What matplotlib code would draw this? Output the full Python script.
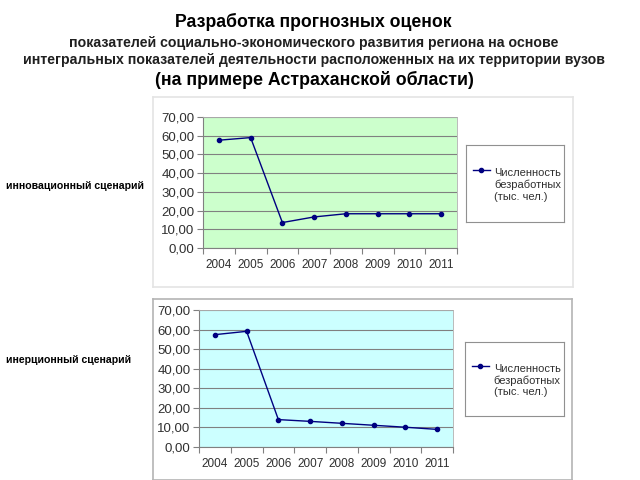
import matplotlib.pyplot as plt

plt.rcParams['font.family'] = ['Liberation Sans', 'DejaVu Sans']

years = ['2004', '2005', '2006', '2007', '2008', '2009', '2010', '2011']
innov = [57.6, 59.0, 13.6, 16.6, 18.3, 18.3, 18.3, 18.3]
inert = [57.4, 59.1, 14.0, 13.1, 12.1, 11.1, 10.1, 9.0]
yticks = [0, 10, 20, 30, 40, 50, 60, 70]
legend_label = 'Численность\nбезработных\n(тыс. чел.)'

W, H = 640, 480
fig = plt.figure(figsize=(6.4, 4.8), dpi=100)


def px(x0, y0, x1, y1):
    # pixel box (top-left origin) -> figure fraction
    return [x0 / W, 1 - y1 / H, (x1 - x0) / W, (y1 - y0) / H]


# titles
fig.text(0.49, 1 - 22 / H, 'Разработка прогнозных оценок', ha='center', va='center',
         fontsize=12.7, fontweight='bold')
fig.text(0.4906, 1 - 43 / H, 'показателей социально-экономического развития региона на основе',
         ha='center', va='center', fontsize=10.2, fontweight='bold', color='#202020')
fig.text(0.4906, 1 - 60 / H, 'интегральных показателей деятельности расположенных на их территории вузов',
         ha='center', va='center', fontsize=10.2, fontweight='bold', color='#202020')
fig.text(0.4914, 1 - 80 / H, '(на примере Астраханской области)', ha='center', va='center',
         fontsize=12.8, fontweight='bold')

# side labels
fig.text(6 / W, 1 - 186 / H, 'инновационный сценарий', ha='left', va='center',
         fontsize=7.6, fontweight='bold')
fig.text(6 / W, 1 - 360 / H, 'инерционный сценарий', ha='left', va='center',
         fontsize=7.6, fontweight='bold')


def panel(box, plot_box, leg_box, values, face, edge):
    bg = fig.add_axes(px(*box))
    bg.set_xticks([])
    bg.set_yticks([])
    for s in bg.spines.values():
        s.set_color(edge)
        s.set_linewidth(1.2)

    ax = fig.add_axes(px(*plot_box))
    ax.set_facecolor(face)
    x = range(len(years))
    ax.plot(x, values, color='#000080', lw=1, marker='o', ms=3,
            markerfacecolor='#000080', markeredgecolor='#000080')
    ax.set_xlim(-0.5, len(years) - 0.5)
    ax.set_ylim(0, 70)
    ax.set_yticks(yticks)
    ax.set_yticklabels([f'{v:.2f}'.replace('.', ',') for v in yticks])
    ax.set_xticks([i + 0.5 for i in range(-1, len(years))])
    ax.set_xticklabels([])
    ax.set_xticks(list(x), minor=True)
    ax.set_xticklabels(years, minor=True)
    ax.tick_params(axis='x', which='minor', length=0, pad=8, labelsize=8.5,
                   labelcolor='#303030')
    ax.tick_params(axis='x', which='major', length=4, color='#808080')
    ax.tick_params(axis='y', length=4, color='#808080', pad=2, labelsize=9.5,
                   labelcolor='#303030')
    ax.grid(axis='y', color='#808080', lw=0.8)
    ax.set_axisbelow(True)
    for k in ['top', 'right']:
        ax.spines[k].set_color('#b0b0b0')
        ax.spines[k].set_linewidth(0.6)
    for k in ['left', 'bottom']:
        ax.spines[k].set_color('#808080')

    lg = fig.add_axes(px(*leg_box))
    lg.set_xticks([])
    lg.set_yticks([])
    lg.set_xlim(0, 1)
    lg.set_ylim(0, 1)
    for s in lg.spines.values():
        s.set_color('#909090')
        s.set_linewidth(0.8)
    lg.plot([0.07, 0.24], [0.68, 0.68], color='#000080', lw=1)
    lg.plot([0.155], [0.68], marker='o', ms=3, color='#000080')
    lg.text(0.29, 0.48, legend_label, ha='left', va='center', fontsize=8,
            color='#303030', linespacing=1.2)


panel((153, 97, 573, 287), (203, 117, 457, 248), (466, 145, 564, 222),
      innov, '#ccffcc', '#e4e4e4')
panel((153, 299, 572, 480), (199, 310, 453, 447), (465, 342, 564, 416),
      inert, '#ccffff', '#b4b4b4')

fig.savefig('out.png', dpi=100)
